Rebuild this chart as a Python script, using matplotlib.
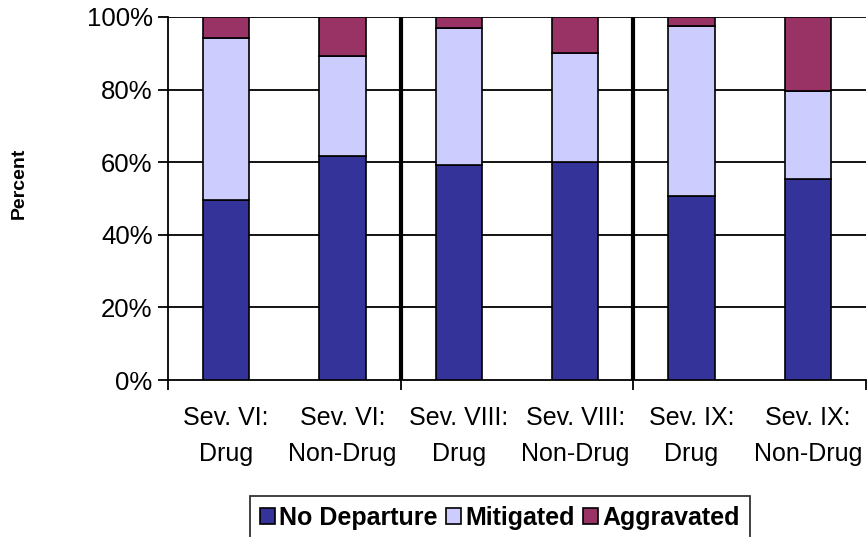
import matplotlib.pyplot as plt
import numpy as np

plt.rcParams['font.family'] = ['Liberation Sans', 'DejaVu Sans']

categories = ['Sev. VI:\nDrug', 'Sev. VI:\nNon-Drug', 'Sev. VIII:\nDrug',
              'Sev. VIII:\nNon-Drug', 'Sev. IX:\nDrug', 'Sev. IX:\nNon-Drug']
no_departure = [49.6, 61.6, 59.3, 60.1, 50.6, 55.5]
mitigated = [44.6, 27.6, 37.6, 30.0, 47.0, 24.1]
aggravated = [100 - a - b for a, b in zip(no_departure, mitigated)]

fig = plt.figure(figsize=(8.67, 5.37), dpi=100)
ax = fig.add_axes([168 / 867, 157 / 537, 698 / 867, 363 / 537])

x = np.arange(len(categories))
w = 0.4
ax.bar(x, no_departure, w, color='#333399', edgecolor='black', linewidth=1.2,
       label='No Departure', zorder=3)
ax.bar(x, mitigated, w, bottom=no_departure, color='#CCCCFF', edgecolor='black',
       linewidth=1.2, label='Mitigated', zorder=3)
ax.bar(x, aggravated, w, bottom=np.array(no_departure) + np.array(mitigated),
       color='#993366', edgecolor='black', linewidth=1.2, label='Aggravated', zorder=3)

for yv in range(20, 101, 20):
    ax.axhline(yv, color='black', linewidth=1.3, zorder=1)
for xv in [1.5, 3.5]:
    ax.axvline(xv, color='black', linewidth=3, zorder=2)

ax.set_xlim(-0.5, 5.5)
ax.set_ylim(0, 100)
ax.set_yticks(range(0, 101, 20))
ax.set_yticklabels([f'{v}%' for v in range(0, 101, 20)], fontsize=18.5)
ax.tick_params(axis='y', direction='out', length=7, width=1.3, pad=4)

ax.set_xticks([-0.5, 1.5, 3.5, 5.5])
ax.set_xticklabels([])
ax.tick_params(axis='x', which='major', direction='out', length=7, width=1.3)
ax.set_xticks(x, minor=True)
ax.set_xticklabels(categories, minor=True, fontsize=18, linespacing=1.6)
ax.tick_params(axis='x', which='minor', length=0, pad=19)

for s in ['top', 'right']:
    ax.spines[s].set_visible(False)
ax.spines['left'].set_linewidth(1.3)
ax.spines['bottom'].set_linewidth(1.3)

fig.text(19 / 867, 1 - 183 / 537, 'Percent', rotation=90, ha='center', va='center',
         fontsize=14, fontweight='bold')

leg = fig.legend(loc='lower center', bbox_to_anchor=(500 / 867, -0.005), ncol=3,
                 prop={'weight': 'bold', 'size': 18}, frameon=True, fancybox=False,
                 edgecolor='black', handlelength=0.6, handleheight=0.6,
                 handletextpad=0.15, columnspacing=0.35, borderpad=0.4, borderaxespad=0)
leg.get_frame().set_linewidth(1.3)

fig.savefig('out.png', dpi=100)
